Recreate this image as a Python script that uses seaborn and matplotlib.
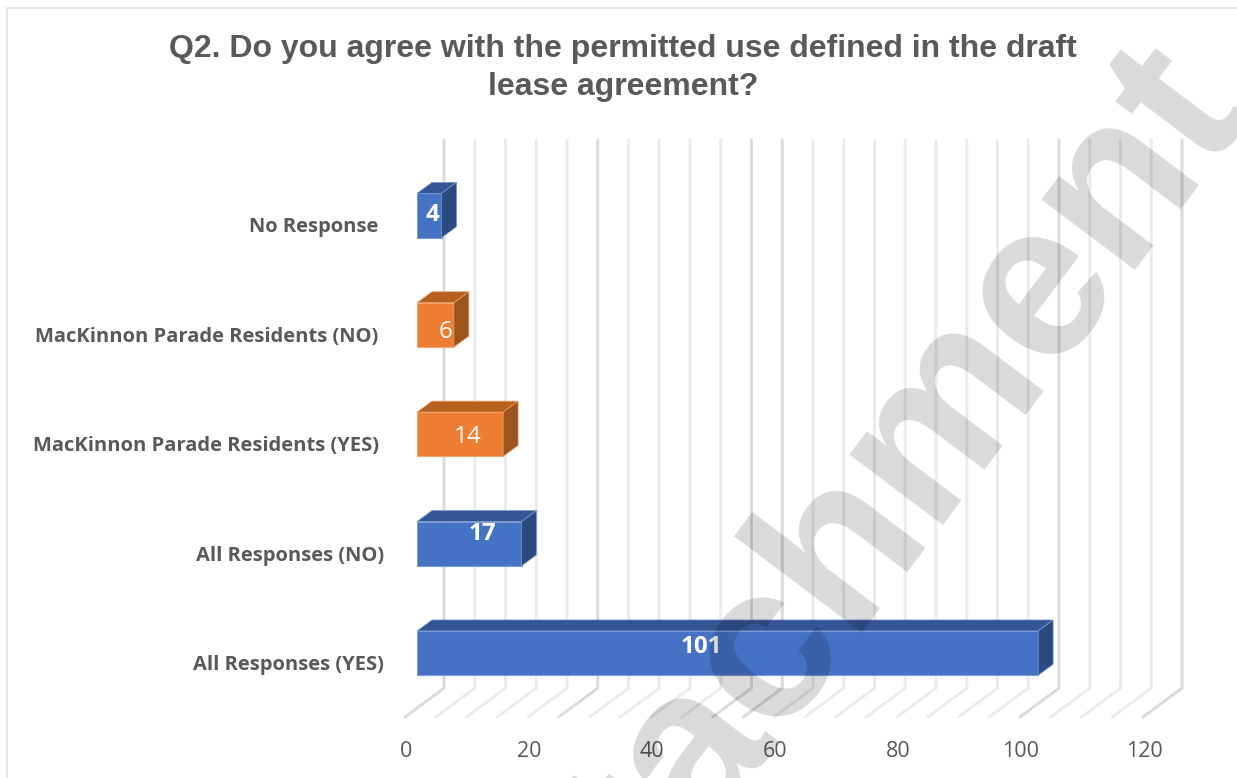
import matplotlib
matplotlib.use("Agg")
import matplotlib.pyplot as plt
import pandas as pd
import seaborn as sns
from matplotlib.colors import to_hex
from matplotlib.patches import Polygon, Rectangle
from matplotlib.transforms import Affine2D

categories = [
    "No Response",
    "MacKinnon Parade Residents (NO)",
    "MacKinnon Parade Residents (YES)",
    "All Responses (NO)",
    "All Responses (YES)",
]
responses = [4, 6, 14, 17, 101]
groups = ["Overall", "Residents", "Residents", "Overall", "Overall"]
x_ticks = [0, 20, 40, 60, 80, 100, 120]
grid_values = list(range(0, 125, 5))
strong_grid = [0, 25, 50, 55, 100, 120]
title = "Q2. Do you agree with the permitted use defined in the draft\nlease agreement?"
watermark = "Attachment"

W, H = 1237, 778
sns.set_theme(style="white")
plt.rcParams["font.family"] = ["Open Sans", "DejaVu Sans"]

fig = plt.figure(figsize=(W / 100, H / 100), dpi=100, facecolor="white")
ax = fig.add_axes([417 / W, 1 - 717 / H, 738 / W, 577 / H])

table = pd.DataFrame({"category": categories, "responses": responses, "group": groups})
front_colors = {"Overall": "#4472C4", "Residents": "#ED7D31"}
top_colors = {"#4472C4": "#335593", "#ED7D31": "#B5601F"}
side_colors = {"#4472C4": "#2A4A80", "#ED7D31": "#9C531C"}
edge_colors = {"#4472C4": "#7C9BD6", "#ED7D31": "#F4A36B"}

sns.barplot(data=table, x="responses", y="category", hue="group", palette=front_colors,
            dodge=False, width=0.405, orient="h", legend=False, saturation=1,
            zorder=3, ax=ax)

ax.set_xlim(0, 120)
ax.set_ylim(4.584, -0.69)
ax.set_xlabel("")
ax.set_ylabel("")
sns.despine(ax=ax, left=True, bottom=True, top=True, right=True)

# Depth of the 3-D look, expressed in axis units
depth_x = 15 / 6.15
depth_y = 11 / 109.4
wall_x = 27 / 6.15
floor_x = -12 / 6.15

# Back wall and floor gridlines
grid_tf = ax.get_xaxis_transform()
for v in grid_values:
    color = "#dadada" if v in strong_grid else "#ebebeb"
    ax.plot([v + wall_x, v + wall_x, v + floor_x], [1, 0.05, 0], transform=grid_tf,
            color=color, lw=2.1, clip_on=False, zorder=1, solid_capstyle="round",
            solid_joinstyle="miter")

# Top and side faces built from each drawn bar
for bar in list(ax.patches):
    if bar.get_width() == 0 or bar.get_height() == 0:
        continue
    x0, y0 = bar.get_x(), bar.get_y()
    x1, y1 = x0 + bar.get_width(), y0 + bar.get_height()
    front = to_hex(bar.get_facecolor()).upper()
    bar.set_edgecolor(edge_colors[front])
    bar.set_linewidth(0.8)
    top_face = [(x0, y0), (x0 + depth_x, y0 - depth_y), (x1 + depth_x, y0 - depth_y), (x1, y0)]
    side_face = [(x1, y0), (x1 + depth_x, y0 - depth_y), (x1 + depth_x, y1 - depth_y), (x1, y1)]
    ax.add_patch(Polygon(top_face, closed=True, facecolor=top_colors[front],
                         edgecolor=edge_colors[front], lw=0.5, zorder=3, clip_on=False))
    ax.add_patch(Polygon(side_face, closed=True, facecolor=side_colors[front],
                         edgecolor=edge_colors[front], lw=0.5, zorder=3, clip_on=False))

# Value labels, nudged in pixels to sit where the 3-D layout places them
label_nudge = [(3, 0), (10, -7), (8, -3), (13, 10), (-26, 6)]
label_weight = ["bold", "normal", "normal", "bold", "bold"]
for i, (value, nudge, weight) in enumerate(zip(responses, label_nudge, label_weight)):
    ax.annotate(str(value), xy=(value / 2, i), xytext=(nudge[0] * 0.72, nudge[1] * 0.72),
                textcoords="offset points", ha="center", va="center", color="white",
                fontsize=17.5, fontweight=weight, zorder=5)

# Tick labels: the value axis sits on the front edge of the floor
ax.set_xticks(x_ticks)
ax.set_xticklabels([str(t) for t in x_ticks], fontsize=15.5, color="#595959")
ax.tick_params(axis="x", length=0, pad=17)
for lab in ax.get_xticklabels():
    lab.set_transform(lab.get_transform() + Affine2D().translate(-11, 0))

ax.set_yticks(range(len(categories)))
ax.set_yticklabels(categories, fontsize=14.5, fontweight="bold", color="#595959")
ax.tick_params(axis="y", length=0, pad=24)
category_shift = [-5, -5, -5, 0, 0]
for lab, shift in zip(ax.get_yticklabels(), category_shift):
    lab.set_transform(lab.get_transform() + Affine2D().translate(shift, -9.5))

fig.text(623 / W, 1 - 68 / H, title, ha="center", va="center", fontsize=23, fontweight="bold",
         family="Liberation Sans", color="#595959", linespacing=1.34)

# Chart frame
fig.add_artist(Rectangle((7 / W, -0.01), 1.01, 1 - 7.5 / H + 0.01, transform=fig.transFigure,
                         fill=False, edgecolor="#dcdcdc", lw=1.1))

# Diagonal stamp across the whole sheet
fig.text(1250 / W, 1 - 110 / H, watermark, rotation=53, rotation_mode="anchor", ha="right", va="baseline",
         fontsize=159, fontweight="bold", family="Liberation Sans", color="black", alpha=0.15, zorder=10)

fig.savefig("out.png", dpi=100)
